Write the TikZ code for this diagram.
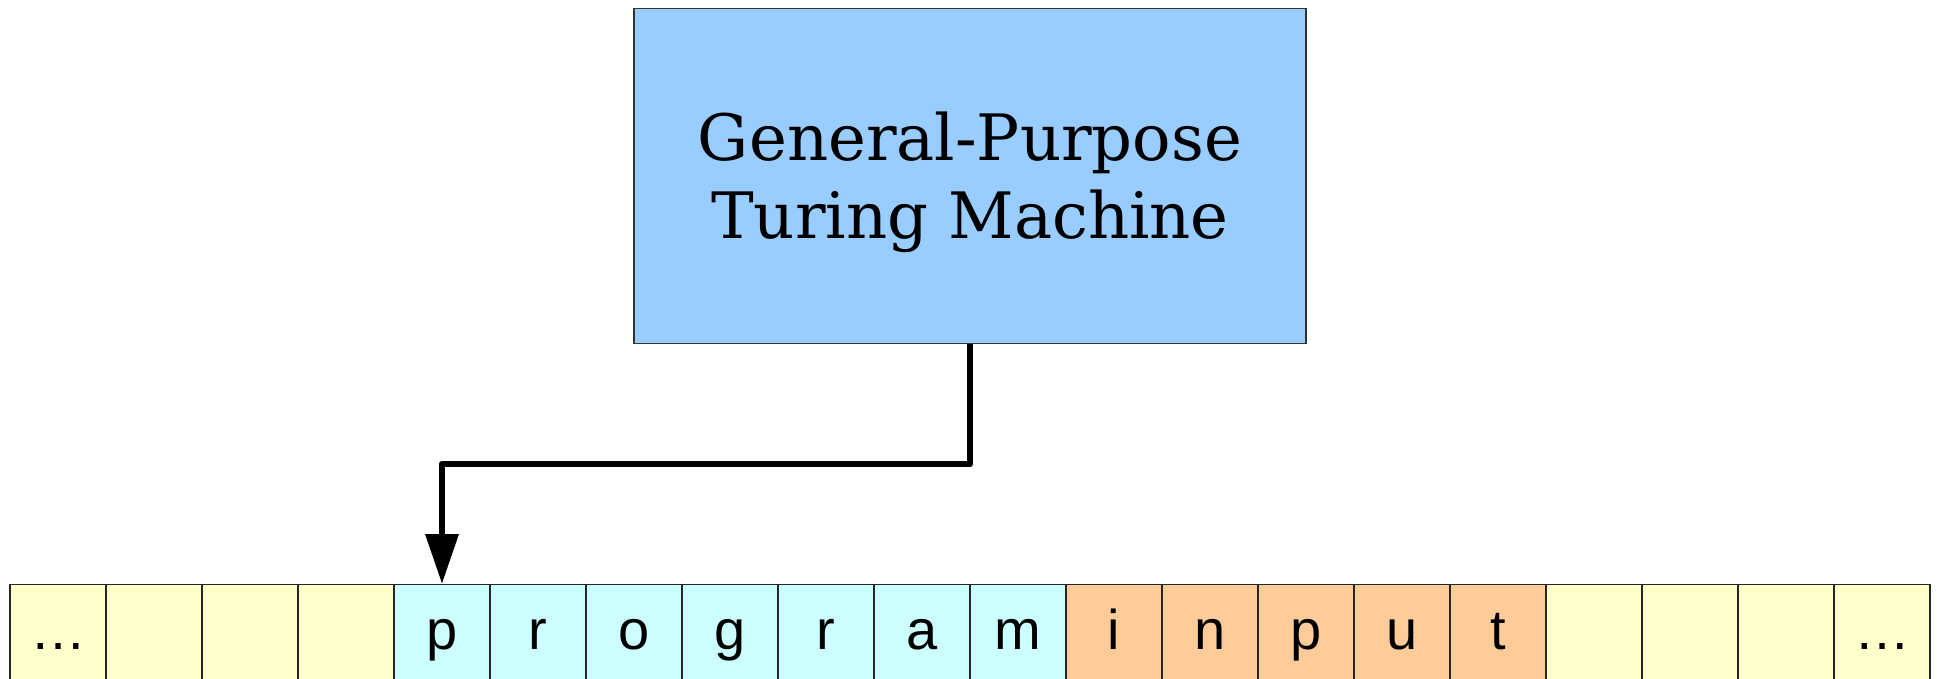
\documentclass[tikz,border=0pt]{standalone}
\usepackage{fontspec}
\setmainfont{DejaVu Serif}
\newfontfamily\tapefont{Liberation Sans}
\usetikzlibrary{arrows.meta}
\definecolor{tmblue}{HTML}{99CCFF}
\definecolor{tapeyellow}{HTML}{FFFFCC}
\definecolor{tapecyan}{HTML}{CCFFFF}
\definecolor{tapeorange}{HTML}{FFCC99}
\newcommand\tapedots{…}
\tikzset{
  machine/.style={draw=black!80, line width=0.6pt, fill=tmblue,
    minimum width=336pt, minimum height=167.5pt, inner sep=0pt,
    align=center, font=\fontsize{32}{39}\selectfont},
  tapecell/.style={draw=black!85, line width=0.6pt, anchor=north,
    minimum width=48pt, inner sep=0pt, text height=32.5pt, text depth=30pt,
    font=\tapefont\fontsize{28}{28}\selectfont},
  headarrow/.style={line width=3.4pt, line join=round,
    -{Triangle[length=25pt,width=16pt]}}
}
\begin{document}
\begin{tikzpicture}[x=0.5pt,y=-0.5pt]
\useasboundingbox (0,0) rectangle (1939,679);
\node[machine] (tm) at (970,176.3) {};
\node[align=center, font=\fontsize{32}{39}\selectfont, inner sep=0pt] (tmlabel) at (970,182) {General-Purpose\\Turing Machine};
\foreach \i/\t/\c in {1/\tapedots/tapeyellow, 2//tapeyellow, 3//tapeyellow, 4//tapeyellow,
  5/p/tapecyan, 6/r/tapecyan, 7/o/tapecyan, 8/g/tapecyan, 9/r/tapecyan, 10/a/tapecyan, 11/m/tapecyan,
  12/i/tapeorange, 13/n/tapeorange, 14/p/tapeorange, 15/u/tapeorange, 16/t/tapeorange,
  17//tapeyellow, 18//tapeyellow, 19//tapeyellow, 20/\tapedots/tapeyellow}{
  \node[tapecell, fill=\c] (c\i) at ({96*\i-38},584) {\t};
}
\coordinate (bend) at (442,464);
\draw[headarrow] (tm.south) |- (bend) -- (c5.north);
\end{tikzpicture}
\end{document}
